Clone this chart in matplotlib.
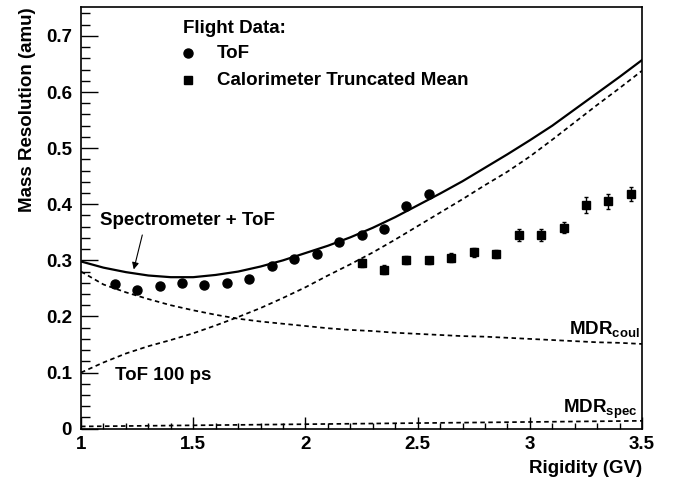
import matplotlib
matplotlib.use("Agg")
import matplotlib.pyplot as plt
from matplotlib.ticker import MultipleLocator

plt.rcParams['font.family'] = ['Liberation Sans', 'DejaVu Sans']
plt.rcParams['font.weight'] = 'bold'
plt.rcParams['axes.labelweight'] = 'bold'
plt.rcParams['mathtext.fontset'] = 'custom'
plt.rcParams['mathtext.bf'] = 'Liberation Sans:bold'

FS = 13.5

# ------------------ DATA ------------------

# flight data, ToF
tof_rig = [1.15, 1.25, 1.35, 1.45, 1.55, 1.65, 1.75, 1.85, 1.95, 2.05,
           2.15, 2.25, 2.35, 2.45, 2.55]
tof_res = [0.257, 0.247, 0.255, 0.260, 0.256, 0.260, 0.267, 0.290, 0.302, 0.311,
           0.332, 0.345, 0.356, 0.397, 0.418]

# flight data, calorimeter truncated mean
cal_rig = [2.25, 2.35, 2.45, 2.55, 2.65, 2.75, 2.85, 2.95, 3.05, 3.15,
           3.25, 3.35, 3.45]
cal_res = [0.295, 0.283, 0.300, 0.300, 0.305, 0.314, 0.311, 0.345, 0.345, 0.358,
           0.399, 0.405, 0.418]
cal_err = [0.007, 0.008, 0.007, 0.006, 0.008, 0.008, 0.007, 0.010, 0.010, 0.010,
           0.014, 0.013, 0.013]

# expected resolution curves
curve_rig = [1.0, 1.1, 1.2, 1.3, 1.4, 1.5, 1.6, 1.7, 1.8, 1.9, 2.0, 2.1, 2.2,
             2.3, 2.4, 2.5, 2.6, 2.7, 2.8, 2.9, 3.0, 3.1, 3.2, 3.3, 3.4, 3.5]
total_res = [0.298, 0.287, 0.279, 0.273, 0.270, 0.270, 0.274, 0.280, 0.289,
             0.300, 0.313, 0.326, 0.341, 0.358, 0.377, 0.398, 0.419, 0.441,
             0.465, 0.489, 0.514, 0.540, 0.569, 0.598, 0.627, 0.657]
tof100_res = [0.100, 0.118, 0.134, 0.147, 0.158, 0.170, 0.184, 0.199, 0.215,
              0.233, 0.252, 0.273, 0.293, 0.314, 0.337, 0.361, 0.385, 0.409,
              0.434, 0.458, 0.485, 0.515, 0.546, 0.577, 0.607, 0.638]
mdr_coul = [0.280, 0.257, 0.243, 0.231, 0.220, 0.211, 0.203, 0.196, 0.191,
            0.187, 0.183, 0.179, 0.176, 0.174, 0.171, 0.169, 0.167, 0.165,
            0.164, 0.162, 0.160, 0.158, 0.156, 0.154, 0.153, 0.151]
spec_rig = [1.0, 1.5, 2.0, 2.5, 3.0, 3.5]
mdr_spec = [0.004, 0.006, 0.008, 0.010, 0.012, 0.014]

# ------------------ PLOT ------------------

fig = plt.figure(figsize=(6.73, 4.82), dpi=100)
ax = fig.add_axes([0.1204, 0.1106, 0.8336, 0.8743])

dash = (2.6, 2.0)
ax.plot(curve_rig, total_res, color='black', lw=1.6, zorder=3)
ax.plot(curve_rig, tof100_res, color='black', lw=1.25, ls=(0, dash), zorder=3)
ax.plot(curve_rig, mdr_coul, color='black', lw=1.25, ls=(0, dash), zorder=3)
ax.plot(spec_rig, mdr_spec, color='black', lw=1.25, ls=(0, dash), zorder=3)

ax.plot(tof_rig, tof_res, 'o', color='black', ms=6.5, zorder=4)
ax.errorbar(cal_rig, cal_res, yerr=cal_err, fmt='s', color='black', ms=6,
            elinewidth=1.0, capsize=1.5, capthick=1.0, zorder=4)

# legend drawn by hand, ROOT style
ax.text(1.455, 0.714, 'Flight Data:', fontsize=FS, va='center', ha='left')
ax.plot([1.475], [0.669], 'o', color='black', ms=6.5, clip_on=False)
ax.text(1.606, 0.669, 'ToF', fontsize=FS, va='center', ha='left')
ax.plot([1.475], [0.621], 's', color='black', ms=6, clip_on=False)
ax.text(1.606, 0.621, 'Calorimeter Truncated Mean', fontsize=FS,
        va='center', ha='left')

# curve labels
ax.annotate('', xy=(1.232, 0.279), xytext=(1.276, 0.350),
            arrowprops=dict(arrowstyle='-|>', color='black', lw=0.8,
                            mutation_scale=10))
ax.text(1.085, 0.371, 'Spectrometer + ToF', fontsize=FS, va='center', ha='left')
ax.text(1.152, 0.094, 'ToF 100 ps', fontsize=FS, va='center', ha='left')
ax.text(3.49, 0.167, r'MDR$_{\mathbf{coul}}$', fontsize=FS,
        va='baseline', ha='right')
ax.text(3.48, 0.028, r'MDR$_{\mathbf{spec}}$', fontsize=FS,
        va='baseline', ha='right')

ax.set_xlim(1.0, 3.5)
ax.set_ylim(0.0, 0.751)
ax.xaxis.set_minor_locator(MultipleLocator(0.1))
ax.yaxis.set_minor_locator(MultipleLocator(0.02))
ax.set_xticks([1.0, 1.5, 2.0, 2.5, 3.0, 3.5], ['1', '1.5', '2', '2.5', '3', '3.5'])
ax.set_yticks([0, 0.1, 0.2, 0.3, 0.4, 0.5, 0.6, 0.7],
              ['0', '0.1', '0.2', '0.3', '0.4', '0.5', '0.6', '0.7'])

ax.tick_params(axis='both', which='both', direction='in', top=False,
               right=False, labelsize=FS, width=1.0)
ax.tick_params(axis='y', which='major', length=12, pad=6.5)
ax.tick_params(axis='y', which='minor', length=6.5)
ax.tick_params(axis='x', which='major', length=8.5, pad=5)
ax.tick_params(axis='x', which='minor', length=4.3)
for s in ax.spines.values():
    s.set_linewidth(1.2)

ax.set_xlabel('Rigidity (GV)', fontsize=FS, loc='right', labelpad=5)
ax.set_ylabel('Mass Resolution (amu)', fontsize=FS, loc='top', labelpad=7)

fig.savefig('out.png', dpi=100)
